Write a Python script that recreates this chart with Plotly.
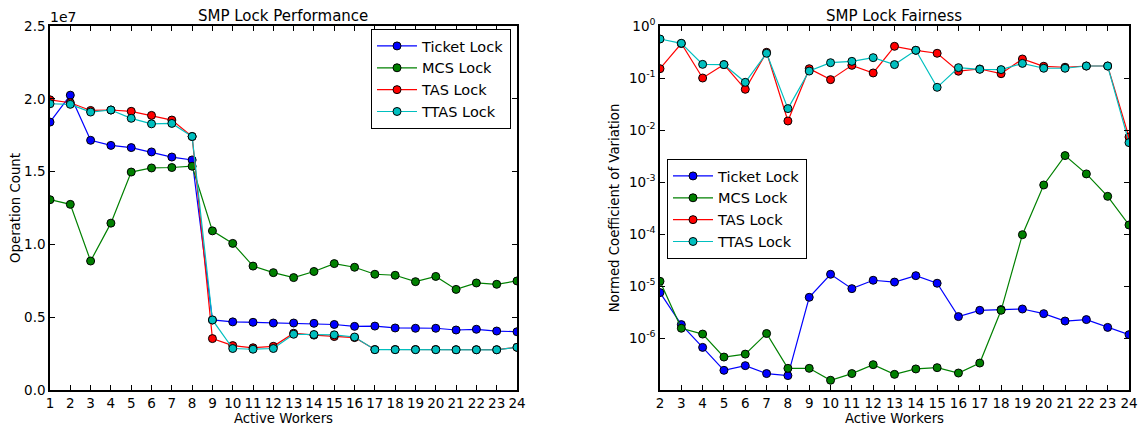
import plotly.graph_objects as go

workers_perf = list(range(1, 25))
workers_fair = list(range(2, 25))

perf_ticket = [18.4e6, 20.25e6, 17.15e6, 16.8e6, 16.65e6, 16.35e6, 16.0e6, 15.8e6,
               4.81e6, 4.68e6, 4.65e6, 4.6e6, 4.6e6, 4.58e6, 4.5e6, 4.37e6, 4.39e6,
               4.26e6, 4.24e6, 4.24e6, 4.12e6, 4.17e6, 4.05e6, 4.0e6]
perf_mcs = [13.07e6, 12.75e6, 8.86e6, 11.46e6, 14.97e6, 15.25e6, 15.28e6, 15.37e6,
            10.93e6, 10.07e6, 8.51e6, 8.06e6, 7.72e6, 8.14e6, 8.68e6, 8.43e6, 7.95e6,
            7.88e6, 7.44e6, 7.8e6, 6.91e6, 7.35e6, 7.26e6, 7.49e6]
perf_tas = [19.93e6, 19.73e6, 19.2e6, 19.23e6, 19.14e6, 18.86e6, 18.54e6, 17.41e6,
            3.53e6, 3.05e6, 2.9e6, 3.0e6, 3.9e6, 3.77e6, 3.67e6, 3.6e6, 2.78e6,
            2.78e6, 2.78e6, 2.78e6, 2.77e6, 2.77e6, 2.77e6, 2.93e6]
perf_ttas = [19.66e6, 19.62e6, 19.09e6, 19.23e6, 18.66e6, 18.28e6, 18.31e6, 17.41e6,
             4.81e6, 2.85e6, 2.8e6, 2.85e6, 3.83e6, 3.81e6, 3.79e6, 3.64e6, 2.77e6,
             2.77e6, 2.77e6, 2.77e6, 2.76e6, 2.76e6, 2.76e6, 2.93e6]

fair_ticket = [7.46e-6, 1.81e-6, 6.6e-7, 2.39e-7, 2.94e-7, 2.07e-7, 1.89e-7, 6.06e-6,
               1.68e-5, 8.9e-6, 1.29e-5, 1.19e-5, 1.58e-5, 1.13e-5, 2.58e-6, 3.41e-6,
               3.52e-6, 3.61e-6, 2.94e-6, 2.12e-6, 2.26e-6, 1.6e-6, 1.16e-6]
fair_mcs = [1.23e-5, 1.54e-6, 1.19e-6, 4.3e-7, 4.9e-7, 1.22e-6, 2.61e-7, 2.61e-7,
            1.54e-7, 2.07e-7, 3.07e-7, 2.0e-7, 2.54e-7, 2.69e-7, 2.12e-7, 3.3e-7,
            3.41e-6, 9.7e-5, 8.76e-4, 3.22e-3, 1.43e-3, 5.3e-4, 1.49e-4]
fair_tas = [0.151, 0.46, 0.1, 0.181, 0.0606, 0.312, 0.0149, 0.151, 0.093, 0.175,
            0.125, 0.407, 0.341, 0.299, 0.135, 0.149, 0.121, 0.232, 0.168, 0.161,
            0.17, 0.17, 0.00734]
fair_ttas = [0.562, 0.465, 0.183, 0.181, 0.0826, 0.299, 0.0258, 0.136, 0.197, 0.209,
             0.246, 0.181, 0.341, 0.0662, 0.158, 0.147, 0.145, 0.191, 0.154, 0.154,
             0.17, 0.17, 0.00572]

names = ["Ticket Lock", "MCS Lock", "TAS Lock", "TTAS Lock"]
colors = ["#0000ff", "#008000", "#ff0000", "#00bfbf"]

perf_ticks = [0, 5e6, 10e6, 15e6, 20e6, 25e6]
perf_ticktext = ["0.0", "0.5", "1.0", "1.5", "2.0", "2.5"]
fair_ticks = [1, 1e-1, 1e-2, 1e-3, 1e-4, 1e-5, 1e-6]
fair_ticktext = ["10<sup>0</sup>", "10<sup>-1</sup>", "10<sup>-2</sup>", "10<sup>-3</sup>",
                 "10<sup>-4</sup>", "10<sup>-5</sup>", "10<sup>-6</sup>"]

FONT = "DejaVu Sans"
W, H = 1144, 428


def px(x):
    return x / W


def py(y):
    return 1 - y / H


fig = go.Figure()

for name, color, ys in zip(names, colors, [perf_ticket, perf_mcs, perf_tas, perf_ttas]):
    fig.add_trace(go.Scatter(
        x=workers_perf, y=ys, name=name, mode="lines+markers",
        line=dict(color=color, width=1.2),
        marker=dict(color=color, size=8, line=dict(color="black", width=1)),
        xaxis="x", yaxis="y", legend="legend"))

for name, color, ys in zip(names, colors, [fair_ticket, fair_mcs, fair_tas, fair_ttas]):
    fig.add_trace(go.Scatter(
        x=workers_fair, y=ys, name=name, mode="lines+markers",
        line=dict(color=color, width=1.2),
        marker=dict(color=color, size=8, line=dict(color="black", width=1)),
        xaxis="x2", yaxis="y2", legend="legend2"))

axis_common = dict(showline=True, linecolor="black", linewidth=1.5, mirror="ticks",
                   ticks="inside", ticklen=5, tickcolor="black", showgrid=False,
                   zeroline=False, automargin=False,
                   tickfont=dict(family=FONT, size=13.5, color="black"))

fig.update_layout(
    width=W, height=H,
    margin=dict(l=0, r=0, t=0, b=0, pad=0),
    paper_bgcolor="white", plot_bgcolor="white",
    font=dict(family=FONT, color="black"),
    xaxis=dict(domain=[px(50), px(517)], range=[1, 24], dtick=1, tick0=1,
               title=dict(text="Active Workers", font=dict(size=13.3), standoff=1),
               anchor="y", **axis_common),
    yaxis=dict(domain=[py(390), py(26)], range=[0, 25e6],
               tickvals=perf_ticks, ticktext=perf_ticktext,
               title=dict(text="Operation Count", font=dict(size=13.3), standoff=0),
               anchor="x", **axis_common),
    xaxis2=dict(domain=[px(660), px(1129)], range=[2, 24], dtick=1, tick0=2,
                title=dict(text="Active Workers", font=dict(size=13.3), standoff=1),
                anchor="y2", **axis_common),
    yaxis2=dict(domain=[py(390), py(26)], type="log", range=[-7, 0],
                tickvals=fair_ticks, ticktext=fair_ticktext,
                title=dict(text="Normed Coefficient of Variation", font=dict(size=13.3), standoff=6),
                anchor="x2", **axis_common),
    legend=dict(x=px(511), y=py(29), xanchor="right", yanchor="top",
                bordercolor="black", borderwidth=1, bgcolor="white",
                font=dict(family=FONT, size=14.5), tracegroupgap=0, itemwidth=40),
    legend2=dict(x=px(667), y=py(159), xanchor="left", yanchor="top",
                 bordercolor="black", borderwidth=1, bgcolor="white",
                 font=dict(family=FONT, size=14.5), tracegroupgap=0, itemwidth=40),
    showlegend=True,
    annotations=[
        dict(text="SMP Lock Performance", x=px(283), y=py(15.5), xref="paper", yref="paper",
             showarrow=False, font=dict(family=FONT, size=15), xanchor="center", yanchor="middle"),
        dict(text="SMP Lock Fairness", x=px(894), y=py(15.5), xref="paper", yref="paper",
             showarrow=False, font=dict(family=FONT, size=15), xanchor="center", yanchor="middle"),
        dict(text="1e7", x=px(48), y=py(17), xref="paper", yref="paper",
             showarrow=False, font=dict(family=FONT, size=14), xanchor="left", yanchor="middle"),
    ],
)

# remove the default page margin so the figure fills the window exactly
fig.write_html("out.html", config={"displayModeBar": False},
               post_script="document.body.style.margin='0px';")
